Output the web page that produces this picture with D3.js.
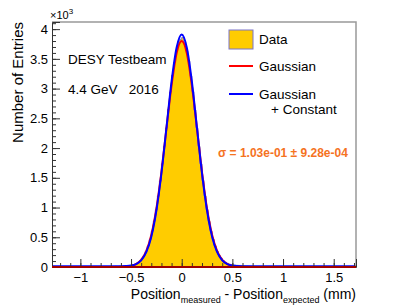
<!DOCTYPE html>
<html>
<head>
<meta charset="utf-8">
<script src="https://cdn.jsdelivr.net/npm/d3@7"></script>
<style>
  body { margin: 0; background: #fff; }
  text { font-family: "Liberation Sans", Arial, sans-serif; white-space: pre; }
</style>
</head>
<body>
<script>
// residual histogram, DESY testbeam 2016 - values read by eye

//---- data
const xRange = [-1.28, 1.72];     // histogram axis range (mm)
const yRange = [0, 4.12];         // entries, x10^3
const binStart = -0.8;            // first bin low edge
const binWidth = 0.02;

// counts (x10^3) per bin, from -0.8 to 0.8
const counts = [
  0.004, 0.006, 0.005, 0.008, 0.006, 0.010, 0.009, 0.012, 0.011, 0.014,
  0.016, 0.015, 0.019, 0.022, 0.026, 0.034, 0.042, 0.056, 0.074, 0.101,
  0.142, 0.190, 0.262, 0.350, 0.462, 0.603, 0.771, 0.962, 1.195, 1.448,
  1.735, 2.031, 2.338, 2.650, 2.940, 3.225, 3.440, 3.640, 3.770, 3.830,
  3.860, 3.780, 3.630, 3.460, 3.210, 2.950, 2.640, 2.340, 2.030, 1.735,
  1.455, 1.195, 0.965, 0.768, 0.601, 0.466, 0.356, 0.268, 0.201, 0.148,
  0.110, 0.082, 0.063, 0.049, 0.040, 0.034, 0.030, 0.028, 0.026, 0.022,
  0.020, 0.018, 0.017, 0.014, 0.012, 0.011, 0.009, 0.008, 0.006, 0.005
];

// fitted curves, sampled
const curveX = [-1.28, -0.7, -0.65, -0.6, -0.55, -0.5, -0.45, -0.4, -0.35, -0.3, -0.25, -0.2, -0.15, -0.1, -0.05,
  0, 0.05, 0.1, 0.15, 0.2, 0.25, 0.3, 0.35, 0.4, 0.45, 0.5, 0.55, 0.6, 0.65, 0.7, 1.72];
const gausY = [0, 0, 0, 0.002, 0.006, 0.017, 0.047, 0.119, 0.268, 0.54, 0.98, 1.60, 2.34, 3.06, 3.60,
  3.80, 3.60, 3.06, 2.34, 1.60, 0.98, 0.54, 0.268, 0.119, 0.047, 0.017, 0.006, 0.002, 0, 0, 0];
const gausConstY = [0.012, 0.012, 0.012, 0.013, 0.016, 0.025, 0.050, 0.113, 0.25, 0.51, 0.95, 1.58, 2.35, 3.12, 3.69,
  3.91, 3.69, 3.12, 2.35, 1.58, 0.95, 0.51, 0.25, 0.113, 0.050, 0.025, 0.016, 0.013, 0.012, 0.012, 0.012];

const xMajor = [-1, -0.5, 0, 0.5, 1, 1.5];
const yMajor = [0, 0.5, 1, 1.5, 2, 2.5, 3, 3.5, 4];

const legendItems = [
  { label: ["Data"], type: "box" },
  { label: ["Gaussian"], type: "line", color: "#ff0000" },
  { label: ["Gaussian", "+ Constant"], type: "line", color: "#0000ff" }
];
const infoLines = ["DESY Testbeam", "4.4 GeV   2016"];
const sigmaText = "\u03c3 = 1.03e-01 \u00b1 9.28e-04";

//---- drawing parameters
const W = 407, H = 308;
const frame = { left: 52, right: 356, top: 22, bottom: 267 };
const fillColor = "#ffcc00";
const histLine = "#7b74c9";

const svg = d3.select("body").append("svg")
  .attr("width", W)
  .attr("height", H);

const x = d3.scaleLinear().domain(xRange).range([frame.left, frame.right]);
const y = d3.scaleLinear().domain(yRange).range([frame.bottom, frame.top]);

// histogram as step outline
let pts = [[binStart, 0]];
counts.forEach((c, i) => pts.push([binStart + i * binWidth, c]));
pts.push([binStart + counts.length * binWidth, counts[counts.length - 1]]);
pts.push([binStart + counts.length * binWidth, 0]);

const stepLine = d3.line()
  .x(d => x(d[0]))
  .y(d => y(d[1]))
  .curve(d3.curveStepAfter);

svg.append("path")
  .attr("d", stepLine(pts))
  .attr("fill", fillColor)
  .attr("stroke", histLine)
  .attr("stroke-width", 1);

// fit curves
const fitLine = d3.line().curve(d3.curveMonotoneX);
svg.append("path")
  .attr("d", fitLine(curveX.map((v, i) => [x(v), y(gausY[i])])))
  .attr("fill", "none")
  .attr("stroke", "#ff0000")
  .attr("stroke-width", 2);

svg.append("path")
  .attr("d", fitLine(curveX.map((v, i) => [x(v), y(gausConstY[i])])))
  .attr("fill", "none")
  .attr("stroke", "#0000ff")
  .attr("stroke-width", 2);

// frame top/right
svg.append("path")
  .attr("d", `M${frame.left},${frame.top}H${frame.right}V${frame.bottom}`)
  .attr("fill", "none")
  .attr("stroke", "#999")
  .attr("stroke-width", 1.5);

// axes, ticks point inside like ROOT
svg.append("g")
  .attr("transform", `translate(0,${frame.bottom})`)
  .call(d3.axisBottom(x).tickValues(xMajor).tickSize(-8).tickPadding(6)
    .tickFormat(d3.format("~g")));
svg.append("g")
  .attr("transform", `translate(0,${frame.bottom})`)
  .call(d3.axisBottom(x).tickValues(d3.range(-12, 18).map(d => d / 10)).tickSize(-4).tickFormat(""))
  .call(g => g.select(".domain").remove());

svg.append("g")
  .attr("transform", `translate(${frame.left},0)`)
  .call(d3.axisLeft(y).tickValues(yMajor).tickSize(-8).tickPadding(4)
    .tickFormat(d3.format("~g")));
svg.append("g")
  .attr("transform", `translate(${frame.left},0)`)
  .call(d3.axisLeft(y).tickValues(d3.range(0, 42).map(d => d / 10)).tickSize(-4).tickFormat(""))
  .call(g => g.select(".domain").remove());

svg.selectAll(".tick text")
  .attr("font-size", 13)
  .attr("fill", "#000");
svg.selectAll(".tick line, .domain").attr("stroke", "#333");

// red fit drawn over the bottom axis line
svg.append("line")
  .attr("x1", x(xRange[0])).attr("x2", x(xRange[1]))
  .attr("y1", y(0)).attr("y2", y(0))
  .attr("stroke", "#a00000")
  .attr("stroke-width", 2);

// x10^3 multiplier
const mult = svg.append("text")
  .attr("x", frame.left - 2)
  .attr("y", 19)
  .attr("font-size", 11);
mult.append("tspan").text("\u00d710");
mult.append("tspan").attr("font-size", 8).attr("dy", -5).text("3");

// axis titles
svg.append("text")
  .attr("transform", `translate(23,${frame.top}) rotate(-90)`)
  .attr("text-anchor", "end")
  .attr("font-size", 15)
  .text("Number of Entries");

const xt = svg.append("text")
  .attr("x", frame.right)
  .attr("y", 299)
  .attr("text-anchor", "end")
  .attr("font-size", 14);
xt.append("tspan").text("Position");
xt.append("tspan").attr("font-size", 9).attr("dy", 4).text("measured");
xt.append("tspan").attr("dy", -4).text(" - Position");
xt.append("tspan").attr("font-size", 9).attr("dy", 4).text("expected");
xt.append("tspan").attr("dy", -4).text(" (mm)");

// info text
svg.selectAll(".info")
  .data(infoLines)
  .enter()
  .append("text")
    .attr("class", "info")
    .attr("x", 68)
    .attr("y", (d, i) => 64 + i * 30)
    .attr("font-size", 13.5)
    .text(d => d);

// legend
const lg = svg.append("g").attr("transform", "translate(229,29)");
legendItems.forEach((item, i) => {
  const cy = [10, 37, 65][i];
  if (item.type === "box") {
    lg.append("rect")
      .attr("x", 0).attr("y", cy - 9)
      .attr("width", 24).attr("height", 19)
      .attr("fill", fillColor)
      .attr("stroke", histLine)
      .attr("stroke-width", 1);
  } else {
    lg.append("line")
      .attr("x1", 0).attr("x2", 24)
      .attr("y1", cy).attr("y2", cy)
      .attr("stroke", item.color)
      .attr("stroke-width", 2);
  }
  item.label.forEach((t, j) => {
    lg.append("text")
      .attr("x", j === 0 ? 30 : 42)
      .attr("y", cy + 5 + j * 15)
      .attr("font-size", 13.5)
      .text(t);
  });
});

// sigma
svg.append("text")
  .attr("x", 218)
  .attr("y", 157)
  .attr("font-size", 12)
  .attr("font-weight", "bold")
  .attr("fill", "#f5731f")
  .text(sigmaText);
</script>
</body>
</html>
